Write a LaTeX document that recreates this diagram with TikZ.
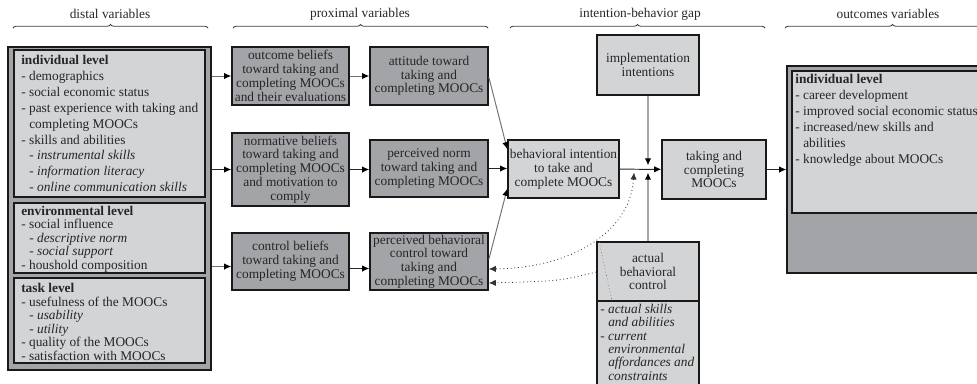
\documentclass[tikz,border=0pt]{standalone}
\usepackage{fontspec}
\setmainfont{Liberation Serif}
\usepackage{tikz}
\usetikzlibrary{arrows.meta, positioning, calc, decorations.pathreplacing}
\definecolor{lightbox}{RGB}{211,212,214}
\definecolor{darkbox}{RGB}{163,164,168}
\definecolor{inktext}{RGB}{38,38,38}

\begin{document}
\begin{tikzpicture}[x=0.025cm, y=-0.025cm,
  sz/.style 2 args={minimum width=#1*0.025cm, minimum height=#2*0.025cm},
  box/.style={rectangle, draw=black!90, line width=1.1pt, inner sep=0pt, align=center, text=inktext, font=\fontsize{9.5}{9.8}\selectfont},
  lightb/.style={box, fill=lightbox},
  darkb/.style={box, fill=darkbox},
  list/.style={anchor=north west, inner sep=0pt, align=left, text=inktext},
  head/.style={font=\fontsize{9.5}{11}\selectfont, text=inktext},
  brc/.style={decorate, decoration={brace, amplitude=2.5pt, aspect=0.5}, black!75, line width=0.6pt},
  arr/.style={-{Latex[length=5pt, width=4.5pt, color=black]}, black!55, line width=0.7pt},
  arrk/.style={arr, black!85},
  vline/.style={arr, black!35, line width=1.3pt},
  dotarr/.style={dotted, black!80, line width=0.6pt}
]
\useasboundingbox (0,0) rectangle (977,383);

% column headers
\node[head] (hdist) at (110,14) {distal variables};
\node[head] (hprox) at (360,14) {proximal variables};
\node[head] (hgap) at (640,14) {intention-behavior gap};
\node[head] (hout) at (888,14) {outcomes variables};
\draw[brc] (13,28) -- (208,28);
\draw[brc] (233,28) -- (488,28);
\draw[brc] (510,28) -- (765,28);
\draw[brc] (785,28) -- (1000,28);

% distal variables
\node[darkb, sz={203}{323}] (distal) at (109.5,208.5) {};
\node[lightb, sz={191}{147}] (indiv) at (109.5,123.5) {};
\node[lightb, sz={191}{70}] (envir) at (109.5,238) {};
\node[lightb, sz={191}{85}] (task) at (109.5,320.5) {};
\node[list, font=\fontsize{9.5}{11.3}\selectfont] (indivtxt) at (21,55) {\textbf{individual level}\\- demographics\\- social economic status\\- past experience with taking and\\\hspace*{0.6em}completing MOOCs\\- skills and abilities\\\hspace*{0.6em}\textit{- instrumental skills}\\\hspace*{0.6em}\textit{- information literacy}\\\hspace*{0.6em}\textit{- online communication skills}};
\node[list, font=\fontsize{9.5}{9.6}\selectfont] (envirtxt) at (21,205.5) {\textbf{environmental level}\\- social influence\\\hspace*{0.6em}\textit{- descriptive norm}\\\hspace*{0.6em}\textit{- social support}\\- houshold composition};
\node[list, font=\fontsize{9.5}{9.6}\selectfont] (tasktxt) at (21,283) {\textbf{task level}\\- usefulness of the MOOCs\\\hspace*{0.6em}\textit{- usability}\\\hspace*{0.6em}\textit{- utility}\\- quality of the MOOCs\\- satisfaction with MOOCs};

% proximal variables
\node[darkb, sz={117}{58}] (ob) at (290.5,76) {outcome beliefs\\toward taking and\\completing MOOCs\\and their evaluations};
\node[darkb, sz={117}{73}] (nb) at (290.5,169.5) {normative beliefs\\toward taking and\\completing MOOCs\\and motivation to\\comply};
\node[darkb, sz={117}{57}] (cb) at (290.5,261.5) {control beliefs\\toward taking and\\completing MOOCs};
\node[darkb, sz={118}{58}] (att) at (429,76) {attitude toward\\taking and\\completing MOOCs};
\node[darkb, sz={118}{57}] (pn) at (429,168.5) {perceived norm\\toward taking and\\completing MOOCs};
\node[darkb, sz={118}{57}] (pbc) at (429,261.5) {perceived behavioral\\control toward\\taking and\\completing MOOCs};

% intention-behavior gap
\node[lightb, sz={111}{58}] (bi) at (563.5,169) {behavioral intention\\to take and\\complete MOOCs};
\node[lightb, sz={102}{60}] (impl) at (648,65) {implementation\\intentions};
\node[lightb, sz={104}{59}] (tc) at (714,169.5) {taking and\\completing\\MOOCs};
\node[lightb, sz={102}{59}] (abct) at (648,271.5) {actual\\behavioral\\control};
\node[lightb, sz={102}{94}] (abcb) at (648,348) {};
\node[list, font=\fontsize{9.5}{9.5}\selectfont\itshape] (abctxt) at (600,304) {- actual skills\\\hspace*{0.6em}and abilities\\- current\\\hspace*{0.6em}environmental\\\hspace*{0.6em}affordances and\\\hspace*{0.6em}constraints};

% outcomes variables
\node[darkb, sz={203}{207}] (outo) at (888.5,169.5) {};
\node[lightb, sz={193}{142}] (outi) at (888.5,142) {};
\node[list, font=\fontsize{9.5}{11.4}\selectfont] (outtxt) at (795,74) {\textbf{individual level}\\- career development\\- improved social economic status\\- increased/new skills and\\\hspace*{0.6em}abilities\\- knowledge about MOOCs};

% connectors
\coordinate (cbin) at ($(cb.west)+(0,5)$);
\draw[arr] (distal.east |- ob.west) -- (ob.west);
\draw[arrk] (distal.east |- nb.west) -- (nb.west);
\draw[arr] (distal.east |- cbin) -- (cbin);
\draw[arr] (ob) -- (att);
\draw[arrk] (nb.east) -- (nb.east -| pn.west);
\draw[arrk] ($(cb.east)+(0,7)$) -- ($(pbc.west)+(0,7)$);
\draw[arr] ($(att.east)+(0,1)$) -- ($(bi.north west)+(0,10)$);
\draw[arrk] (pn.east) -- (pn.east -| bi.west);
\draw[arr] ($(pbc.east)+(0,-2)$) -- ($(bi.south west)+(0,-10)$);
\draw[arrk] (bi) -- (tc);
\draw[vline] (impl) -- ([yshift=2.5pt]impl |- bi.east);
\draw[vline] (abct) -- ([yshift=-2.5pt]abct |- bi.east);
\draw[arrk] (tc) -- (outo);

% moderating paths
\coordinate (mod) at (634,169);
\draw[dotarr, {Latex[length=5pt, width=4.5pt]}-{Latex[length=5pt, width=4.5pt]}] ([yshift=-2.5pt]mod) .. controls (630,232) and (572,268) .. ($(pbc.east)+(0,7.5)$);
\draw[dotarr, -{Latex[length=5pt, width=4.5pt]}] ($(abct.west)+(0,0.5)$) .. controls (560,281) .. ($(pbc.east)+(0,21.5)$);
\draw[dotted, black!70] ($(abct.north west)+(3,1)$) -- ($(abct.south west)+(16,0)$);
\end{tikzpicture}
\end{document}
